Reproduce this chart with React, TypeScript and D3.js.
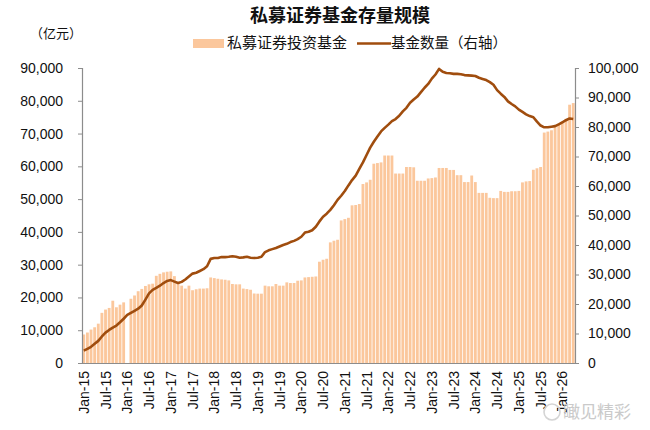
import * as d3 from 'd3';
import React, { useEffect, useRef } from 'react';

// monthly, Jan-15 .. Apr-26 (Jan-16 bar missing in source)
const fundSize: (number | null)[] = [
  8700, 9300, 10200, 10900, 12000, 15300, 16300, 16800, 19000, 17000, 17800, 18500,
  null, 19600, 20600, 21900, 22600, 23500, 24000, 24200, 26600, 27200, 27650, 27850,
  27950, 26500, 24400, 23600, 22700, 23600, 22200, 22500, 22700, 22700, 22800, 26100,
  25900, 25700, 25500, 25400, 25200, 24100, 24000, 24000, 22700, 22550, 22350, 21200,
  21150, 21150, 23600, 23400, 23400, 24100, 23600, 23600, 24600, 24400, 24400, 25100,
  25200, 26100, 26200, 26300, 26400, 30900, 31500, 31800, 36800, 37300, 37600, 43500,
  43900, 44300, 48100, 48200, 48500, 54600, 55100, 55900, 60800, 61000, 61200, 63300,
  63300, 63300, 57800, 57800, 57800, 59800, 59800, 59700, 55600, 55600, 55600, 56300,
  56400, 56600, 59500, 59500, 59500, 58900, 58900, 57300, 57300, 55200, 55200, 57200,
  55200, 51900, 51900, 51900, 50400, 50300, 50300, 52500, 52200, 52200, 52400, 52400,
  52500, 55100, 55400, 55500, 58950, 59400, 59800, 70300, 70600, 71000, 72400, 73000,
  73700, 74500, 78800, 79300,
];

const fundCount: number[] = [
  4200, 4800, 5500, 6500, 7500, 9000, 10300, 11200, 12000, 12700, 13800, 15000,
  16300, 17000, 17700, 18400, 19500, 21500, 23600, 24800, 25500, 26200, 27100, 27800,
  28100, 27600, 27100, 27500, 28300, 29300, 30300, 30600, 31200, 31800, 32800, 35300,
  35600, 35600, 35900, 35900, 36000, 36200, 36000, 35700, 35800, 36000, 35700, 35600,
  35700, 36000, 37600, 38200, 38600, 39000, 39500, 40000, 40400, 41000, 41400, 42000,
  42800, 44200, 44500, 45000, 46200, 48000, 49600, 50600, 51900, 53500, 55300, 56700,
  58300, 60200, 62000, 63500, 65800, 68000, 70500, 73000, 75000, 76800, 78500, 79700,
  80800, 82000, 82700, 83800, 85300, 86500, 88200, 89300, 90300, 91800, 93300, 94600,
  96400, 97800, 99700, 98700, 98300, 98200, 98000, 98000, 97900, 97600, 97500, 97400,
  97300, 96700, 96300, 95900, 95200, 94300, 92500, 91300, 90200, 88700, 87800, 87000,
  85900, 85100, 84300, 83700, 83300, 81800, 80500, 79900, 79900, 80100, 80300, 80900,
  81600, 82300, 82900, 82700,
];

const monthNames = ['Jan', 'Feb', 'Mar', 'Apr', 'May', 'Jun', 'Jul', 'Aug', 'Sep', 'Oct', 'Nov', 'Dec'];
const months: string[] = fundCount.map(
  (_, i) => `${monthNames[i % 12]}-${15 + Math.floor(i / 12)}`,
);

const leftTicks = [0, 10000, 20000, 30000, 40000, 50000, 60000, 70000, 80000, 90000];
const rightTicks = [0, 10000, 20000, 30000, 40000, 50000, 60000, 70000, 80000, 90000, 100000];

const W = 650;
const H = 430;
const m = { left: 82, right: 575, top: 68, bottom: 363 };
const barColor = '#FBC79C';
const lineColor = '#A04D0E';
const axisColor = '#8C8C8C';
const font = '"Liberation Sans", Arial, "Noto Sans CJK SC", sans-serif';
const cjk = '"Noto Sans CJK SC", "Liberation Sans", sans-serif';

const App = () => {
  const plotRef = useRef<SVGGElement>(null);

  useEffect(() => {
    const g = d3.select(plotRef.current);
    g.selectAll('*').remove();

    const x = d3.scaleBand<string>().domain(months).range([m.left, m.right]).paddingInner(0.22).paddingOuter(0.1);
    const yL = d3.scaleLinear().domain([0, 90000]).range([m.bottom, m.top]);
    const yR = d3.scaleLinear().domain([0, 100000]).range([m.bottom, m.top]);
    const fmt = d3.format(',');

    // bars
    g.append('g')
      .selectAll('rect')
      .data(fundSize.map((v, i) => ({ v, k: months[i] })).filter((d) => d.v !== null))
      .join('rect')
      .attr('x', (d) => x(d.k)!)
      .attr('width', x.bandwidth())
      .attr('y', (d) => yL(d.v as number))
      .attr('height', (d) => m.bottom - yL(d.v as number))
      .attr('fill', barColor);

    // line
    const line = d3
      .line<number>()
      .x((_, i) => x(months[i])! + x.bandwidth() / 2)
      .y((d) => yR(d));
    g.append('path')
      .datum(fundCount)
      .attr('d', line)
      .attr('fill', 'none')
      .attr('stroke', lineColor)
      .attr('stroke-width', 2.6)
      .attr('stroke-linejoin', 'round');

    const gl = g
      .append('g')
      .attr('transform', `translate(${m.left},0)`)
      .call(d3.axisLeft(yL).tickValues(leftTicks).tickFormat((d) => fmt(d as number)).tickSize(4).tickPadding(15));
    const gr = g
      .append('g')
      .attr('transform', `translate(${m.right},0)`)
      .call(d3.axisRight(yR).tickValues(rightTicks).tickFormat((d) => fmt(d as number)).tickSize(4).tickPadding(9));
    const tickMonths = months.filter((_, i) => i % 6 === 0);
    const gb = g
      .append('g')
      .attr('transform', `translate(0,${m.bottom})`)
      .call(d3.axisBottom(x).tickValues(tickMonths).tickSize(0).tickPadding(0));
    gb.selectAll('text')
      .attr('transform', 'rotate(-90)')
      .attr('text-anchor', 'end')
      .attr('x', -8)
      .attr('y', 0)
      .attr('dy', '0.36em');

    [gl, gr, gb].forEach((a) => {
      a.select('.domain').attr('stroke', axisColor).attr('stroke-width', 1.2);
      a.selectAll('.tick line').attr('stroke', axisColor);
      a.selectAll('text').attr('font-family', font).attr('font-size', 14).attr('fill', '#111');
    });
  }, []);

  return (
    <svg width={W} height={H} style={{ position: 'absolute', left: 0, top: 0, background: '#fff' }}>
      <g ref={plotRef} />
      <text x={250} y={22} fontFamily={cjk} fontWeight="bold" fontSize={18} fill="#111">
        私募证券基金存量规模
      </text>
      <text x={30} y={38} fontFamily={cjk} fontSize={13} fill="#111">
        （亿元）
      </text>
      <rect x={193} y={39} width={31} height={9} fill={barColor} />
      <text x={227} y={48} fontFamily={cjk} fontSize={15} fill="#111">
        私募证券投资基金
      </text>
      <line x1={357} x2={391} y1={43.5} y2={43.5} stroke={lineColor} strokeWidth={2.6} />
      <text x={391} y={48} fontFamily={cjk} fontSize={14.5} fill="#111">
        基金数量（右轴）
      </text>
      <circle cx={552} cy={412} r={8} fill="none" stroke="#D4D4D4" strokeWidth={1.6} />
      <text x={563} y={418} fontFamily={cjk} fontSize={17} fill="#CACACA">
        瞰见精彩
      </text>
    </svg>
  );
};

export default App;
